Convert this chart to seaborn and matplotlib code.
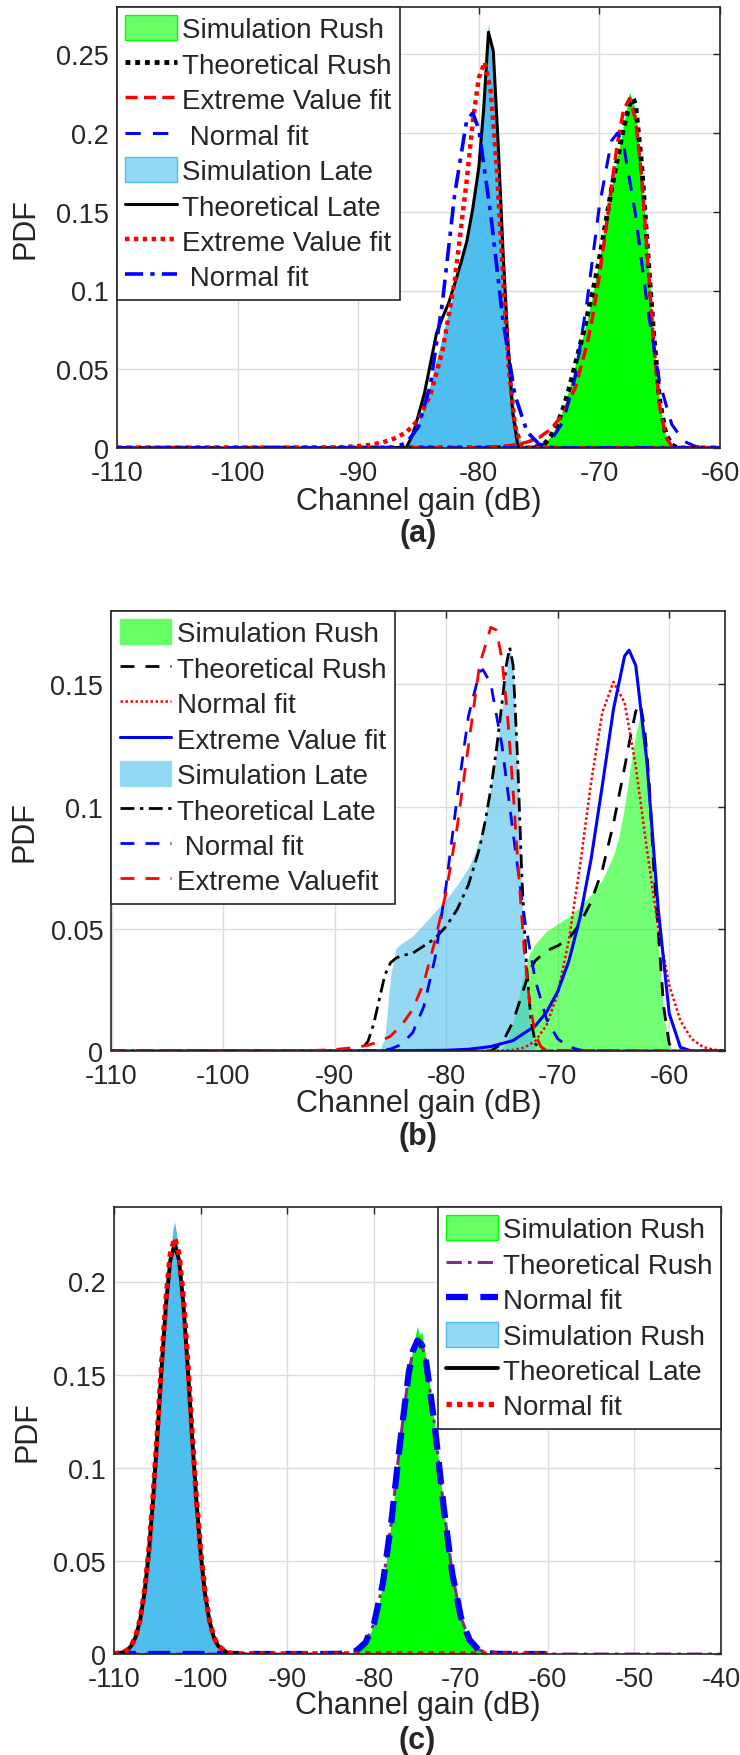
import matplotlib

matplotlib.use("Agg")

import matplotlib.pyplot as plt
import seaborn as sns
from matplotlib.patches import Patch
from matplotlib.ticker import FormatStrFormatter


W, H = 740, 1756

# ---------------- panel (a) ----------------
A_RUSH_SIM_X = [-75.0, -74.5, -74.0, -73.5, -73.0, -72.5, -72.0, -71.5, -71.0, -70.5, -70.0, -69.5,
                -69.0, -68.5, -68.0, -67.5, -67.0, -66.5, -66.0, -65.5, -65.0, -64.5, -64.0, -63.5]
A_RUSH_SIM_Y = [0.0, 0.003, 0.008, 0.015, 0.025, 0.038, 0.053, 0.067, 0.082, 0.100, 0.120, 0.143,
                0.165, 0.185, 0.205, 0.226, 0.215, 0.172, 0.125, 0.068, 0.028, 0.008, 0.001, 0.0]

A_RUSH_THEO_X = [-110, -76, -75, -74.5, -74, -73.5, -73, -72.5, -72, -71.5, -71, -70.5, -70, -69.5,
                 -69, -68.5, -68, -67.5, -67.2, -67, -66.5, -66, -65.5, -65, -64.5, -64, -63.5, -60]
A_RUSH_THEO_Y = [0, 0, 0.001, 0.003, 0.008, 0.015, 0.025, 0.038, 0.053, 0.068, 0.084, 0.101, 0.120, 0.142,
                 0.164, 0.184, 0.203, 0.218, 0.222, 0.218, 0.180, 0.125, 0.072, 0.030, 0.009, 0.002, 0, 0]

A_RUSH_EV_X = [-110, -80, -78, -77, -76, -75, -74, -73, -72, -71, -70.5, -70, -69.5, -69, -68.5, -68,
               -67.5, -67, -66.5, -66, -65.5, -65, -64.5, -64, -63, -60]
A_RUSH_EV_Y = [0, 0.0003, 0.0011, 0.002, 0.0037, 0.0066, 0.0121, 0.0217, 0.0384, 0.0664, 0.0859, 0.1095,
               0.1367, 0.1658, 0.1936, 0.2146, 0.2219, 0.2087, 0.1727, 0.1203, 0.0663, 0.0266, 0.007,
               0.001, 0, 0]

A_RUSH_NORM_X = [-110, -76, -75, -74, -73, -72, -71, -70, -69, -68.5, -68, -67, -66, -65, -64, -63,
                 -62, -61, -60]
A_RUSH_NORM_Y = [0, 0.0002, 0.0011, 0.0049, 0.0168, 0.0452, 0.0944, 0.1538, 0.195, 0.2, 0.1926, 0.148,
                 0.0887, 0.0414, 0.015, 0.0043, 0.0009, 0.0002, 0]

A_LATE_SIM_X = [-86.5, -86, -85.5, -85, -84.5, -84, -83.5, -83, -82.5, -82, -81.5, -81, -80.5, -80,
                -79.5, -79.2, -79, -78.5, -78, -77.5, -77, -76.5, -76]
A_LATE_SIM_Y = [0, 0.002, 0.008, 0.017, 0.028, 0.041, 0.056, 0.071, 0.087, 0.101, 0.116, 0.131, 0.150,
                0.180, 0.235, 0.270, 0.255, 0.200, 0.130, 0.065, 0.020, 0.003, 0]

A_LATE_THEO_X = [-110, -87, -86, -85.5, -85, -84.5, -84, -83.5, -83, -82.5, -82, -81.5, -81, -80.5,
                 -80, -79.6, -79.2, -78.8, -78.4, -78, -77.6, -77.2, -76.8, -76.4, -60]
A_LATE_THEO_Y = [0, 0, 0.0005, 0.008, 0.021, 0.035, 0.054, 0.073, 0.083, 0.092, 0.104, 0.117, 0.131,
                 0.152, 0.178, 0.215, 0.264, 0.252, 0.194, 0.126, 0.069, 0.023, 0.003, 0, 0]

A_LATE_EV_X = [-110, -92, -90, -89, -88, -87, -86, -85, -84, -83, -82, -81, -80.5, -80, -79.5, -79,
               -78.5, -78, -77.5, -77, -76.5, -76, -60]
A_LATE_EV_Y = [0, 0.0003, 0.0012, 0.002, 0.0035, 0.006, 0.010, 0.018, 0.034, 0.062, 0.106, 0.170,
               0.207, 0.235, 0.245, 0.226, 0.177, 0.110, 0.050, 0.014, 0.002, 0, 0]

A_LATE_NORM_X = [-110, -88, -87, -86, -85, -84, -83, -82, -81, -80.5, -80, -79, -78, -77, -76, -75,
                 -74, -73, -60]
A_LATE_NORM_Y = [0, 0.0001, 0.0006, 0.0033, 0.0134, 0.0407, 0.0934, 0.161, 0.2082, 0.2127, 0.2024,
                 0.1477, 0.081, 0.0334, 0.0103, 0.0024, 0.0004, 0, 0]

# ---------------- panel (b) ----------------
B_RUSH_SIM_X = [-75, -74.5, -74, -73.5, -73, -72.5, -72, -71, -70, -69, -68, -67, -66, -65, -64.5,
                -64, -63.5, -63, -62.5, -62, -61.5, -61, -60.5, -60, -59.5]
B_RUSH_SIM_Y = [0, 0.005, 0.012, 0.022, 0.033, 0.040, 0.044, 0.049, 0.052, 0.055, 0.059, 0.064, 0.070,
                0.080, 0.088, 0.100, 0.116, 0.130, 0.139, 0.126, 0.085, 0.045, 0.015, 0.002, 0]

B_RUSH_THEO_X = [-110, -76, -75, -74, -73, -72.5, -72, -71, -70, -69, -68, -67, -66, -65, -64, -63.5,
                 -63, -62.6, -62.2, -61.8, -61.4, -61, -60.5, -60, -59.5, -55]
B_RUSH_THEO_Y = [0, 0, 0.003, 0.012, 0.026, 0.033, 0.037, 0.041, 0.043, 0.046, 0.052, 0.061, 0.074,
                 0.093, 0.116, 0.128, 0.139, 0.142, 0.132, 0.110, 0.076, 0.050, 0.018, 0.003, 0, 0]

B_RUSH_NORM_X = [-110, -76, -74, -73, -72, -71, -70, -69, -68, -67, -66, -65, -64, -63, -62, -61,
                 -60, -59, -58, -57, -56, -55]
B_RUSH_NORM_Y = [0, 0, 0.0004, 0.0014, 0.0041, 0.0105, 0.0234, 0.0452, 0.0758, 0.110, 0.1385, 0.151,
                 0.1425, 0.1165, 0.0826, 0.0507, 0.027, 0.0124, 0.005, 0.0017, 0.0005, 0.0001]

B_RUSH_EV_X = [-110, -85, -80, -78, -76, -74, -72, -71, -70, -69, -68, -67, -66, -65, -64, -63.6,
               -63, -62, -61, -60, -59, -58, -55]
B_RUSH_EV_Y = [0, 0.0001, 0.0003, 0.0007, 0.0018, 0.0043, 0.0103, 0.0159, 0.0243, 0.0367, 0.0545,
               0.0786, 0.1085, 0.1398, 0.1616, 0.164, 0.1577, 0.1183, 0.0587, 0.0153, 0.0015, 0, 0]

B_LATE_SIM_X = [-86, -85.5, -85, -84.5, -84, -83, -82, -81, -80, -79, -78, -77.5, -77, -76.5, -76,
                -75.5, -75, -74.6, -74.3, -74, -73.6, -73.2, -72.8, -72.4, -72]
B_LATE_SIM_Y = [0, 0.005, 0.030, 0.042, 0.044, 0.047, 0.052, 0.057, 0.062, 0.068, 0.075, 0.080, 0.087,
                0.096, 0.108, 0.122, 0.139, 0.155, 0.165, 0.158, 0.115, 0.062, 0.025, 0.008, 0]

B_LATE_THEO_X = [-110, -87.7, -87, -86.5, -86, -85.5, -85, -84.5, -84, -83, -82, -81, -80, -79, -78,
                 -77, -76.5, -76, -75.5, -75, -74.6, -74.3, -74, -73.6, -73.2, -72.8, -72.4, -72,
                 -71.5, -55]
B_LATE_THEO_Y = [0, 0, 0.004, 0.011, 0.021, 0.031, 0.036, 0.038, 0.039, 0.040, 0.043, 0.046, 0.051,
                 0.058, 0.068, 0.083, 0.094, 0.107, 0.123, 0.142, 0.158, 0.165, 0.158, 0.120, 0.070,
                 0.035, 0.013, 0.003, 0, 0]

B_LATE_NORM_X = [-110, -86, -85, -84, -83, -82, -81, -80, -79, -78, -77, -76.7, -76, -75, -74, -73,
                 -72, -71, -70, -69, -68, -67, -55]
B_LATE_NORM_Y = [0, 0.0002, 0.0008, 0.0027, 0.0075, 0.0182, 0.0379, 0.0678, 0.1041, 0.137, 0.155,
                 0.156, 0.1503, 0.1251, 0.0894, 0.0548, 0.0288, 0.013, 0.005, 0.0017, 0.0004, 0, 0]

B_LATE_EV_X = [-110, -92, -90, -88, -87, -86, -85, -84, -83, -82, -81, -80, -79, -78, -77, -76,
               -75.5, -75, -74.5, -74, -73.5, -73, -72.5, -72, -71.5, -71, -55]
B_LATE_EV_Y = [0, 0.0002, 0.0006, 0.0015, 0.0024, 0.0038, 0.006, 0.0105, 0.017, 0.028, 0.045, 0.065,
               0.092, 0.125, 0.158, 0.1733, 0.1722, 0.1604, 0.1376, 0.1065, 0.0722, 0.0414, 0.0192,
               0.0068, 0.0017, 0.0003, 0]

# ---------------- panel (c) ----------------
C_RUSH_SIM_X = [-83, -82.5, -82, -81.5, -81, -80.5, -80, -79.5, -79, -78.5, -78, -77.5, -77, -76.5,
                -76, -75.5, -75.2, -75, -74.8, -74.5, -74, -73.5, -73, -72.5, -72, -71.5, -71, -70.5,
                -70, -69.5, -69, -68.5, -68, -67.5, -67]
C_RUSH_SIM_Y = [0, 0.001, 0.0019, 0.0035, 0.0061, 0.0103, 0.0166, 0.0255, 0.0377, 0.053, 0.0715, 0.0922,
                0.1137, 0.134, 0.1512, 0.165, 0.172, 0.176, 0.171, 0.173, 0.158, 0.1414, 0.1221, 0.1008,
                0.0796, 0.0601, 0.0434, 0.030, 0.0198, 0.0125, 0.0076, 0.0044, 0.0024, 0.0013, 0]

C_RUSH_NORM_X = [-110, -86, -84, -83, -82, -81, -80, -79, -78, -77, -76, -75.5, -75, -74.5, -74, -73,
                 -72, -71, -70, -69, -68, -67, -66, -64, -60]
C_RUSH_NORM_Y = [0, 0, 0.0001, 0.0005, 0.0019, 0.0061, 0.0166, 0.0377, 0.0715, 0.1137, 0.1512, 0.163,
                 0.1683, 0.166, 0.1567, 0.1221, 0.0796, 0.0434, 0.0198, 0.0076, 0.0024, 0.0006, 0.0001,
                 0, 0]

C_RUSH_THEO_X = [-110, -86, -84, -83, -82, -81, -80, -79, -78, -77, -76, -75.5, -75, -74.5, -74, -73,
                 -72, -71, -70, -69, -68, -67, -66, -64, -40]
C_RUSH_THEO_Y = [0, 0, 0.0001, 0.0005, 0.0019, 0.0061, 0.0166, 0.0377, 0.0715, 0.1137, 0.1512, 0.163,
                 0.1683, 0.166, 0.1567, 0.1221, 0.0796, 0.0434, 0.0198, 0.0076, 0.0024, 0.0006, 0.0001,
                 0, 0]

C_LATE_SIM_X = [-109, -108.5, -108, -107.5, -107, -106.5, -106, -105.5, -105, -104.5, -104, -103.5,
                -103.2, -103, -102.8, -102.5, -102, -101.5, -101, -100.5, -100, -99.5, -99, -98.5,
                -98, -97.5, -97]
C_LATE_SIM_Y = [0, 0.002, 0.0045, 0.0095, 0.0185, 0.033, 0.055, 0.084, 0.119, 0.157, 0.191, 0.215,
                0.228, 0.232, 0.226, 0.214, 0.190, 0.156, 0.119, 0.084, 0.055, 0.033, 0.018, 0.009,
                0.004, 0.0015, 0]

C_LATE_THEO_X = [-110, -109, -108.5, -108, -107.5, -107, -106.5, -106, -105.5, -105, -104.5, -104,
                 -103.5, -103, -102.5, -102, -101.5, -101, -100.5, -100, -99.5, -99, -98.5, -98, -97,
                 -96, -95]
C_LATE_THEO_Y = [0, 0.0008, 0.0019, 0.0044, 0.0092, 0.018, 0.0323, 0.0537, 0.0826, 0.1175, 0.1546,
                 0.188, 0.2115, 0.220, 0.2115, 0.188, 0.1546, 0.1175, 0.0826, 0.0537, 0.0323, 0.018,
                 0.0092, 0.0044, 0.0008, 0.0001, 0]

C_LATE_NORM_X = [-110, -109, -108.5, -108, -107.5, -107, -106.5, -106, -105.5, -105, -104.5, -104,
                 -103.5, -103, -102.5, -102, -101.5, -101, -100.5, -100, -99.5, -99, -98.5, -98, -97,
                 -96, -60]
C_LATE_NORM_Y = [0, 0.0008, 0.0019, 0.0044, 0.0093, 0.0182, 0.0328, 0.0545, 0.0839, 0.1193, 0.157,
                 0.191, 0.2148, 0.2234, 0.2148, 0.191, 0.157, 0.1193, 0.0839, 0.0545, 0.0328, 0.0182,
                 0.0093, 0.0044, 0.0008, 0.0001, 0]

GREEN = "#00ff00"
SKY = "#4dbeee"
GREEN_LIGHT = "#66ff66"
SKY_LIGHT = "#94d9f4"
RED = "#ff0000"
BLUE = "#0000ff"
PURPLE = "#7e2f8e"
AX_COLOR = "#262626"

TICK_FS = 19.5
LABEL_FS = 22
LEGEND_FS = 20


def rect(left, top, right, bottom):
    return [left / W, 1 - bottom / H, (right - left) / W, (bottom - top) / H]


def add_line(ax, x, y, label, **kws):
    sns.lineplot(x=x, y=y, ax=ax, estimator=None, sort=False, label=label, legend=False, **kws)
    return ax.lines[-1]


def add_fill(ax, x, y, color, alpha):
    ax.fill_between(x, y, 0, color=color, alpha=alpha, linewidth=0)


def style_axes(ax, xlim, ylim, xticks, yticks, box, xlab_y, ylab_x, tag, tag_y):
    left, top, right, bottom = box
    ax.set_xlim(*xlim)
    ax.set_ylim(*ylim)
    ax.set_xticks(xticks)
    ax.set_yticks(yticks)
    ax.xaxis.set_major_formatter(FormatStrFormatter("%g"))
    ax.yaxis.set_major_formatter(FormatStrFormatter("%g"))
    ax.grid(True, color="#dcdcdc", linewidth=1.0)
    ax.set_axisbelow(True)
    ax.tick_params(axis="both", direction="in", length=5, width=1.0, color=AX_COLOR,
                   labelsize=TICK_FS, top=True, right=True)
    ax.tick_params(axis="x", pad=9)
    ax.tick_params(axis="y", pad=6)
    for sp in ax.spines.values():
        sp.set_color(AX_COLOR)
        sp.set_linewidth(1.2)
    ax.set_xlabel("Channel gain (dB)", fontsize=LABEL_FS, va="center", color="#262626")
    ax.xaxis.set_label_coords(0.5, -(xlab_y - bottom) / (bottom - top))
    ax.set_ylabel("PDF", fontsize=LABEL_FS, va="center", color="#262626")
    ax.yaxis.set_label_coords((ylab_x - left) / (right - left), 0.5)
    ax.figure.text((left + right) / 2 / W, 1 - tag_y / H, tag, ha="center", va="center",
                   fontsize=LABEL_FS, fontweight="bold")


def add_legend(ax, handles, loc):
    leg = ax.legend(handles=handles, loc=loc, bbox_to_anchor=(0, 1) if loc == "upper left" else (1, 1),
                    borderaxespad=0, fontsize=LEGEND_FS, labelspacing=0.27, handlelength=1.85,
                    handleheight=1.0, handletextpad=0.2, borderpad=0.3, fancybox=False,
                    framealpha=1, edgecolor=AX_COLOR)
    leg.get_frame().set_linewidth(1.2)
    return leg


sns.set_style("white")
plt.rcParams["font.family"] = ["Liberation Sans", "DejaVu Sans"]
plt.rcParams["axes.unicode_minus"] = False

fig = plt.figure(figsize=(W / 100, H / 100), dpi=100)

# ----- (a) -----
box_a = (117, 8, 720, 449)
ax = fig.add_axes(rect(*box_a))
add_fill(ax, A_RUSH_SIM_X, A_RUSH_SIM_Y, GREEN, 1.0)
add_fill(ax, A_LATE_SIM_X, A_LATE_SIM_Y, SKY, 1.0)
h = [Patch(facecolor=GREEN_LIGHT, edgecolor=GREEN, label="Simulation Rush")]
h.append(add_line(ax, A_RUSH_THEO_X, A_RUSH_THEO_Y, "Theoretical Rush", color="black",
                  linewidth=3.5, linestyle=(0, (1, 1))))
h.append(add_line(ax, A_RUSH_EV_X, A_RUSH_EV_Y, "Extreme Value fit", color=RED,
                  linewidth=2.5, linestyle=(0, (3.5, 1.8))))
h.append(add_line(ax, A_RUSH_NORM_X, A_RUSH_NORM_Y, " Normal fit", color=BLUE,
                  linewidth=2.2, linestyle=(0, (5, 4))))
h.append(Patch(facecolor=SKY_LIGHT, edgecolor=SKY, label="Simulation Late"))
h.append(add_line(ax, A_LATE_THEO_X, A_LATE_THEO_Y, "Theoretical Late", color="black",
                  linewidth=2.2))
h.append(add_line(ax, A_LATE_EV_X, A_LATE_EV_Y, "Extreme Value fit", color=RED,
                  linewidth=3.2, linestyle=(0, (1, 1))))
h.append(add_line(ax, A_LATE_NORM_X, A_LATE_NORM_Y, " Normal fit", color=BLUE,
                  linewidth=2.6, linestyle=(0, (5, 2, 1.2, 2))))
style_axes(ax, (-110, -60), (0, 0.28), range(-110, -59, 10), [0, 0.05, 0.1, 0.15, 0.2, 0.25],
           box_a, 502, 25, "(a)", 534)
add_legend(ax, h, "upper left")

# ----- (b) -----
box_b = (111.5, 612, 725, 1052)
ax = fig.add_axes(rect(*box_b))
add_fill(ax, B_RUSH_SIM_X, B_RUSH_SIM_Y, GREEN, 0.55)
add_fill(ax, B_LATE_SIM_X, B_LATE_SIM_Y, SKY, 0.6)
h = [Patch(facecolor=GREEN_LIGHT, edgecolor=GREEN_LIGHT, label="Simulation Rush")]
h.append(add_line(ax, B_RUSH_THEO_X, B_RUSH_THEO_Y, "Theoretical Rush", color="black",
                  linewidth=2.0, linestyle=(0, (5, 4))))
h.append(add_line(ax, B_RUSH_NORM_X, B_RUSH_NORM_Y, "Normal fit", color=RED,
                  linewidth=1.8, linestyle=(0, (1, 1))))
h.append(add_line(ax, B_RUSH_EV_X, B_RUSH_EV_Y, "Extreme Value fit", color=BLUE, linewidth=2.2))
h.append(Patch(facecolor=SKY_LIGHT, edgecolor=SKY_LIGHT, label="Simulation Late"))
h.append(add_line(ax, B_LATE_THEO_X, B_LATE_THEO_Y, "Theoretical Late", color="black",
                  linewidth=2.0, linestyle=(0, (5, 2, 1.2, 2))))
h.append(add_line(ax, B_LATE_NORM_X, B_LATE_NORM_Y, " Normal fit", color=BLUE,
                  linewidth=2.0, linestyle=(0, (5, 4))))
h.append(add_line(ax, B_LATE_EV_X, B_LATE_EV_Y, "Extreme Valuefit", color=RED,
                  linewidth=2.0, linestyle=(0, (5, 4))))
style_axes(ax, (-110, -55), (0, 0.18), range(-110, -59, 10), [0, 0.05, 0.1, 0.15],
           box_b, 1104, 25, "(b)", 1137)
add_legend(ax, h, "upper left")

# ----- (c) -----
box_c = (114, 1208, 721, 1655)
ax = fig.add_axes(rect(*box_c))
add_fill(ax, C_RUSH_SIM_X, C_RUSH_SIM_Y, GREEN, 1.0)
add_fill(ax, C_LATE_SIM_X, C_LATE_SIM_Y, SKY, 1.0)
h = [Patch(facecolor=GREEN_LIGHT, edgecolor=GREEN, label="Simulation Rush")]
h.append(add_line(ax, C_RUSH_THEO_X, C_RUSH_THEO_Y, "Theoretical Rush", color=PURPLE,
                  linewidth=2.2, linestyle=(0, (5, 2, 1.2, 2))))
h.append(add_line(ax, C_RUSH_NORM_X, C_RUSH_NORM_Y, "Normal fit", color=BLUE,
                  linewidth=4.5, linestyle=(0, (3.5, 2))))
h.append(Patch(facecolor=SKY_LIGHT, edgecolor=SKY, label="Simulation Rush"))
h.append(add_line(ax, C_LATE_THEO_X, C_LATE_THEO_Y, "Theoretical Late", color="black",
                  linewidth=2.8))
h.append(add_line(ax, C_LATE_NORM_X, C_LATE_NORM_Y, "Normal fit", color=RED,
                  linewidth=3.8, linestyle=(0, (1, 1))))
style_axes(ax, (-110, -40), (0, 0.24), range(-110, -39, 10), [0, 0.05, 0.1, 0.15, 0.2],
           box_c, 1706, 27.5, "(c)", 1741)
add_legend(ax, h, "upper right")

fig.savefig("out.png", dpi=100)
plt.close(fig)
